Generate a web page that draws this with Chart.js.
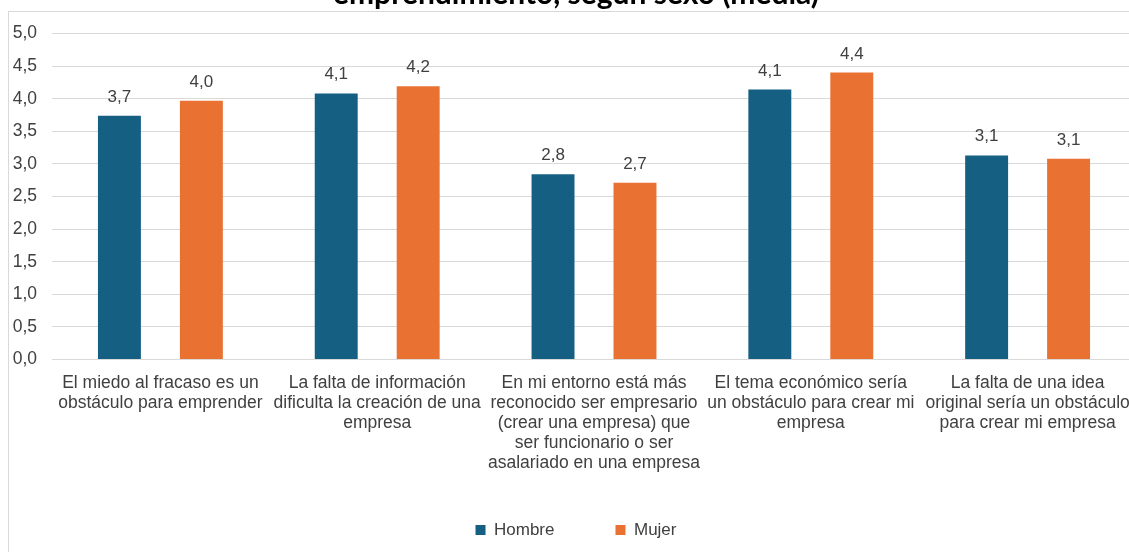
<!DOCTYPE html>
<html lang="es">
<head>
<meta charset="utf-8">
<title>Obstáculos al emprendimiento según sexo</title>
<script src="https://cdn.jsdelivr.net/npm/chart.js@4.4.1/dist/chart.umd.min.js"></script>
<style>
  html, body { margin: 0; padding: 0; background: #fff; overflow: hidden; }
  #grafica { position: absolute; left: 0; top: -40px; }
</style>
</head>
<body>
<canvas id="grafica" width="1160" height="620"></canvas>
<script>
// Datos del gráfico
const titulo = 'emprendimiento, según sexo (media)';
const categorias = [
    ['El miedo al fracaso es un', 'obstáculo para emprender'],
    ['La falta de información', 'dificulta la creación de una', 'empresa'],
    ['En mi entorno está más', 'reconocido ser empresario', '(crear una empresa) que', 'ser funcionario o ser', 'asalariado en una empresa'],
    ['El tema económico sería', 'un obstáculo para crear mi', 'empresa'],
    ['La falta de una idea', 'original sería un obstáculo', 'para crear mi empresa']
];
const hombre = [3.74, 4.08, 2.84, 4.14, 3.13];
const mujer = [3.97, 4.19, 2.71, 4.40, 3.08];
const ejeMin = 0;
const ejeMax = 5;
const ejePaso = 0.5;

const colorTexto = '#404040';
const fuente = "'Liberation Sans', Arial, sans-serif";

// número con coma decimal y un decimal
function formato(v) {
    return Number(v).toFixed(1).replace('.', ',');
}

// marco gris del área del gráfico
const marco = {
    id: 'marco',
    beforeDraw(chart) {
        const ctx = chart.ctx;
        ctx.save();
        ctx.fillStyle = '#ffffff';
        ctx.fillRect(0, 0, chart.width, chart.height);
        ctx.strokeStyle = '#d9d9d9';
        ctx.lineWidth = 1;
        ctx.strokeRect(8.5, 51.5, chart.width + 50, chart.height + 50);
        ctx.restore();
    }
};

// amplía la zona de recorte de las etiquetas de los ejes
const ajusteEjes = {
    id: 'ajusteEjes',
    afterLayout(chart) {
        chart.scales.y.left = 0;
        chart.scales.x.bottom = chart.scales.x.top + 130;
    }
};

// valores encima de cada barra
const etiquetas = {
    id: 'etiquetas',
    afterDatasetsDraw(chart) {
        const ctx = chart.ctx;
        ctx.save();
        ctx.font = '17px ' + fuente;
        ctx.fillStyle = colorTexto;
        ctx.textAlign = 'center';
        ctx.textBaseline = 'alphabetic';
        chart.data.datasets.forEach((ds, i) => {
            chart.getDatasetMeta(i).data.forEach((barra, j) => {
                ctx.fillText(formato(ds.data[j]), barra.x, barra.y - 14);
            });
        });
        ctx.restore();
    }
};

const ctx = document.getElementById('grafica').getContext('2d');
const chart = new Chart(ctx, {
    type: 'bar',
    data: {
        labels: categorias,
        datasets: [{
            label: 'Hombre',
            data: hombre,
            backgroundColor: '#156082',
            categoryPercentage: 0.756,
            barPercentage: 0.524
        }, {
            label: 'Mujer',
            data: mujer,
            backgroundColor: '#e97132',
            categoryPercentage: 0.756,
            barPercentage: 0.524
        }]
    },
    options: {
        responsive: false,
        devicePixelRatio: 1,
        animation: false,
        layout: {
            padding: { left: 16, right: 24, top: 0, bottom: 31.5 }
        },
        plugins: {
            title: {
                display: true,
                text: titulo,
                color: '#000000',
                font: { family: 'Lato, sans-serif', size: 30, weight: 'bold' },
                padding: { top: 16, bottom: 21.5 }
            },
            legend: {
                position: 'bottom',
                labels: {
                    boxWidth: 10,
                    boxHeight: 10,
                    padding: 61,
                    color: colorTexto,
                    font: { family: fuente, size: 17 }
                }
            },
            tooltip: { enabled: false }
        },
        scales: {
            x: {
                grid: { display: false },
                border: { display: false },
                ticks: {
                    color: colorTexto,
                    font: { family: fuente, size: 17.5, lineHeight: '20px' },
                    padding: 6,
                    maxRotation: 0,
                    autoSkip: false
                },
                afterFit: (s) => { s.height = 101; }
            },
            y: {
                min: ejeMin,
                max: ejeMax,
                grid: { color: '#d9d9d9', drawTicks: false },
                border: { display: false },
                ticks: {
                    stepSize: ejePaso,
                    padding: 15,
                    color: colorTexto,
                    font: { family: fuente, size: 17.5 },
                    callback: (v) => formato(v)
                },
                afterFit: (s) => { s.width = 36; }
            }
        }
    },
    plugins: [marco, ajusteEjes, etiquetas]
});
</script>
</body>
</html>
